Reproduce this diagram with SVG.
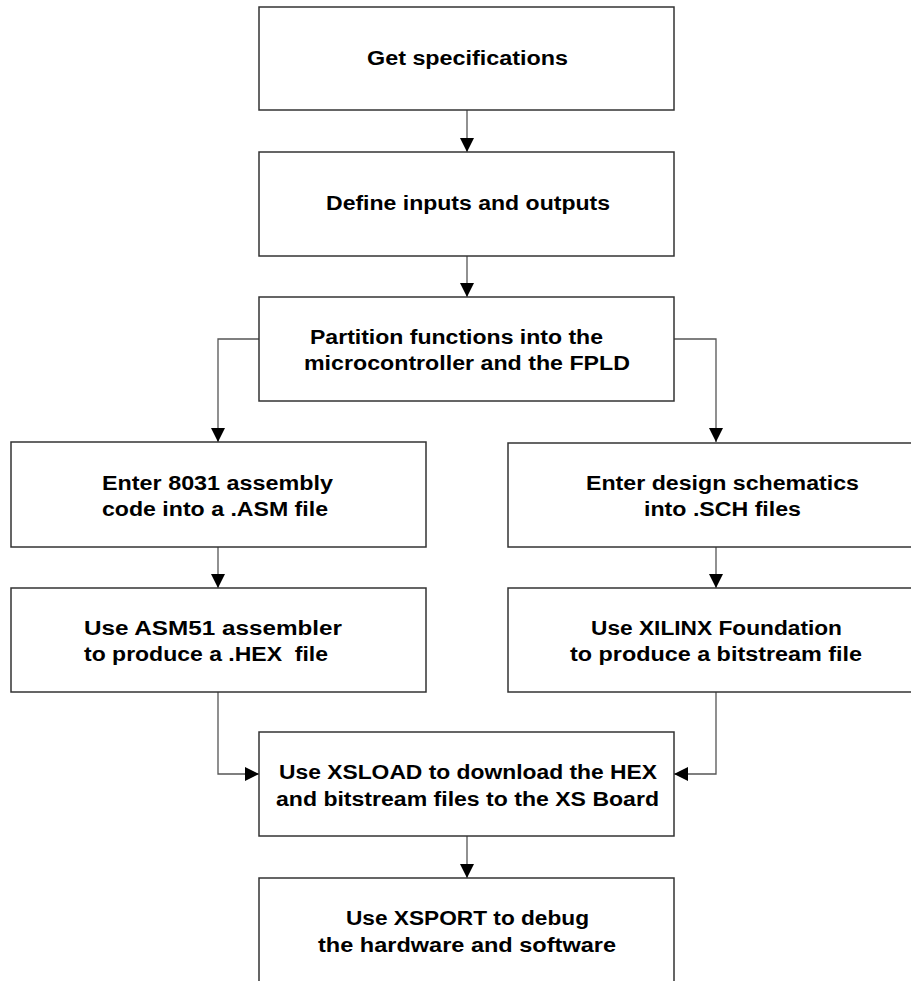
<svg xmlns="http://www.w3.org/2000/svg" width="911" height="981" viewBox="0 0 911 981">
  <defs>
    <marker id="arr" viewBox="0 0 14 14" refX="14" refY="7" markerWidth="14" markerHeight="14" orient="auto" markerUnits="userSpaceOnUse">
      <path d="M0,0 L14,7 L0,14 z" fill="#000"/>
    </marker>
    <style>
      .box { fill: #fff; stroke: #333; stroke-width: 1.5; }
      .lbl { font-family: "Liberation Sans", Arial, sans-serif; font-weight: bold; font-size: 20px; fill: #000; }
      .conn { fill: none; stroke: #555; stroke-width: 1.3; marker-end: url(#arr); }
    </style>
  </defs>
  <rect width="911" height="981" fill="#fff"/>

  <g id="connectors">
    <path class="conn" d="M467,110 V152"/>
    <path class="conn" d="M467,256 V297"/>
    <path class="conn" d="M259,339 H218 V442"/>
    <path class="conn" d="M674,339 H716 V442"/>
    <path class="conn" d="M218,547 V588"/>
    <path class="conn" d="M716,547 V588"/>
    <path class="conn" d="M218,692 V774 H259"/>
    <path class="conn" d="M716,692 V774 H674"/>
    <path class="conn" d="M467,836 V878"/>
  </g>

  <g id="get-specs">
    <rect class="box" x="259" y="7" width="415" height="103"/>
    <text class="lbl" x="367" y="65" textLength="201" lengthAdjust="spacingAndGlyphs">Get specifications</text>
  </g>
  <g id="define-io">
    <rect class="box" x="259" y="152" width="415" height="104"/>
    <text class="lbl" x="326" y="210" textLength="284" lengthAdjust="spacingAndGlyphs">Define inputs and outputs</text>
  </g>
  <g id="partition">
    <rect class="box" x="259" y="297" width="415" height="104"/>
    <text class="lbl" x="310" y="344" textLength="293" lengthAdjust="spacingAndGlyphs">Partition functions into the</text>
    <text class="lbl" x="304" y="370" textLength="326" lengthAdjust="spacingAndGlyphs">microcontroller and the FPLD</text>
  </g>
  <g id="enter-asm">
    <rect class="box" x="11" y="442" width="415" height="105"/>
    <text class="lbl" x="102" y="490" textLength="231" lengthAdjust="spacingAndGlyphs">Enter 8031 assembly</text>
    <text class="lbl" x="102" y="516" textLength="226" lengthAdjust="spacingAndGlyphs">code into a .ASM file</text>
  </g>
  <g id="enter-sch">
    <rect class="box" x="508" y="443" width="430" height="104"/>
    <text class="lbl" x="586" y="490" textLength="273" lengthAdjust="spacingAndGlyphs">Enter design schematics</text>
    <text class="lbl" x="644" y="516" textLength="157" lengthAdjust="spacingAndGlyphs">into .SCH files</text>
  </g>
  <g id="asm51">
    <rect class="box" x="11" y="588" width="415" height="104"/>
    <text class="lbl" x="84" y="635" textLength="258" lengthAdjust="spacingAndGlyphs">Use ASM51 assembler</text>
    <text class="lbl" x="84" y="661" textLength="244" lengthAdjust="spacingAndGlyphs" style="white-space:pre">to produce a .HEX  file</text>
  </g>
  <g id="xilinx">
    <rect class="box" x="508" y="588" width="430" height="104"/>
    <text class="lbl" x="591" y="635" textLength="251" lengthAdjust="spacingAndGlyphs">Use XILINX Foundation</text>
    <text class="lbl" x="570" y="661" textLength="292" lengthAdjust="spacingAndGlyphs">to produce a bitstream file</text>
  </g>
  <g id="xsload">
    <rect class="box" x="259" y="732" width="415" height="104"/>
    <text class="lbl" x="279" y="779" textLength="378" lengthAdjust="spacingAndGlyphs">Use XSLOAD to download the HEX</text>
    <text class="lbl" x="276" y="806" textLength="383" lengthAdjust="spacingAndGlyphs">and bitstream files to the XS Board</text>
  </g>
  <g id="xsport">
    <rect class="box" x="259" y="878" width="415" height="110"/>
    <text class="lbl" x="346" y="925" textLength="243" lengthAdjust="spacingAndGlyphs">Use XSPORT to debug</text>
    <text class="lbl" x="318" y="952" textLength="298" lengthAdjust="spacingAndGlyphs">the hardware and software</text>
  </g>
</svg>
